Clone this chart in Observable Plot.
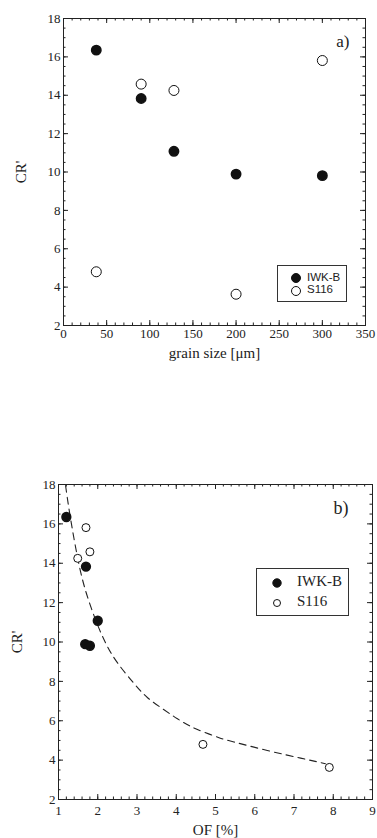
<!DOCTYPE html>
<html><head><meta charset="utf-8">
<script src="https://cdn.jsdelivr.net/npm/d3@7"></script>
<script src="https://cdn.jsdelivr.net/npm/@observablehq/plot@0.6"></script>
<style>
body{margin:0;background:#fff;}
#root{position:relative;width:377px;height:838px;overflow:hidden;}
#root svg{display:block;}
#root svg text{font-family:'Liberation Serif','Times New Roman',serif;}
.legend{position:absolute;border:1px solid #333;background:#fff;box-sizing:border-box;}
.legend .item{position:absolute;white-space:nowrap;line-height:1;}
.legend svg{position:absolute;overflow:visible;}
</style></head><body><div id="root"></div>
<script>
// ---- data ----
const series = ["IWK-B", "S116"];
const grainSize = [38, 90, 128, 200, 300];          // µm
const crIWK = [16.35, 13.83, 11.08, 9.89, 9.81];     // CR'
const crS116 = [4.8, 14.58, 14.25, 3.63, 15.81];     // CR'
const ofIWK = [1.2, 1.7, 2.0, 1.68, 1.8];            // OF [%]
const ofS116 = [4.68, 1.8, 1.49, 7.9, 1.7];          // OF [%]
// dashed fit curve in panel b
const fitOF = [1.18, 1.30, 1.50, 1.70, 1.95, 2.2, 2.5, 2.93, 3.27, 3.65, 4.03, 4.37, 4.71, 5.09, 5.47, 6.32, 7.17, 7.8];
const fitCR = [17.95, 16.35, 14.15, 12.54, 11.1, 9.95, 8.95, 7.88, 7.17, 6.61, 6.10, 5.71, 5.42, 5.14, 4.92, 4.49, 4.1, 3.82];
// ticks
const ticksXa = [0, 50, 100, 150, 200, 250, 300, 350];
const ticksXb = [1, 2, 3, 4, 5, 6, 7, 8, 9];
const ticksY = [2, 4, 6, 8, 10, 12, 14, 16, 18];
const minorXa = d3.range(0, 350.001, 10);
const minorXb = d3.range(1, 9.001, 0.2);
const minorY = d3.range(2, 18.001, 0.5);

const serif = "'Liberation Serif', 'Times New Roman', serif";
const sans = "'Liberation Sans', Arial, sans-serif";
const ink = "#222";
const plotStyle = "font-family: 'Liberation Serif', 'Times New Roman', serif; font-size: 13px; color: #222; background: #fff;";

function frameTicks(xMajor, xMinor, yMajor, yMinor, innerW, innerH) {
  const big = 5, small = 2.5;
  const o = {stroke: ink, strokeWidth: 1};
  return [
    Plot.tickX(xMajor, {x: d => d, insetTop: innerH - big, ...o}),
    Plot.tickX(xMajor, {x: d => d, insetBottom: innerH - big, ...o}),
    Plot.tickX(xMinor, {x: d => d, insetTop: innerH - small, ...o}),
    Plot.tickX(xMinor, {x: d => d, insetBottom: innerH - small, ...o}),
    Plot.tickY(yMajor, {y: d => d, insetRight: innerW - big, ...o}),
    Plot.tickY(yMajor, {y: d => d, insetLeft: innerW - big, ...o}),
    Plot.tickY(yMinor, {y: d => d, insetRight: innerW - small, ...o}),
    Plot.tickY(yMinor, {y: d => d, insetLeft: innerW - small, ...o})
  ];
}

const root = document.getElementById("root");

// ---- panel a ----
{
  const W = 377, H = 420, mt = 18, ml = 63, mr = 12, mb = 95;
  const idx = d3.range(grainSize.length);
  const chart = Plot.plot({
    width: W, height: H, marginTop: mt, marginLeft: ml, marginRight: mr, marginBottom: mb,
    style: plotStyle,
    x: {domain: [0, 350]},
    y: {domain: [2, 18]},
    marks: [
      ...frameTicks(ticksXa, minorXa, ticksY, minorY, W - ml - mr, H - mt - mb),
      Plot.frame({stroke: ink, strokeWidth: 1}),
      Plot.axisX(ticksXa, {tickSize: 0, tickPadding: 3, fontSize: 13, fontFamily: serif, label: null}),
      Plot.axisY(ticksY, {tickSize: 0, tickPadding: 3, fontSize: 13, fontFamily: serif, label: null}),
      Plot.dot(idx, {x: i => grainSize[i], y: i => crIWK[i], r: 4.7, fill: "#111", stroke: "#111"}),
      Plot.dot(idx, {x: i => grainSize[i], y: i => crS116[i], r: 5, fill: "#fff", stroke: "#111", strokeWidth: 1}),
      Plot.text(["a)"], {frameAnchor: "top-right", dx: -16, dy: 16, fontSize: 17, fontFamily: serif, fill: ink}),
      Plot.text(["grain size [μm]"], {frameAnchor: "bottom", dy: 28, lineAnchor: "middle", fontSize: 15, fontFamily: serif, fill: ink}),
      Plot.text(["CR'"], {frameAnchor: "left", dx: -42, rotate: -90, textAnchor: "middle", lineAnchor: "middle", fontSize: 15, fontFamily: serif, fill: ink})
    ]
  });
  root.appendChild(chart);
}

// ---- panel b ----
{
  const W = 377, H = 418, mt = 64, ml = 58, mr = 5, mb = 39;
  const idxI = d3.range(ofIWK.length);
  const idxS = d3.range(ofS116.length);
  const idxF = d3.range(fitOF.length);
  const chart = Plot.plot({
    width: W, height: H, marginTop: mt, marginLeft: ml, marginRight: mr, marginBottom: mb,
    style: plotStyle,
    x: {domain: [1, 9]},
    y: {domain: [2, 18]},
    marks: [
      ...frameTicks(ticksXb, minorXb, ticksY, minorY, W - ml - mr, H - mt - mb),
      Plot.frame({stroke: ink, strokeWidth: 1}),
      Plot.axisX(ticksXb, {tickSize: 0, tickPadding: 6, fontSize: 13, fontFamily: serif, label: null}),
      Plot.axisY(ticksY, {tickSize: 0, tickPadding: 3, fontSize: 13, fontFamily: serif, label: null}),
      Plot.line(idxF, {x: i => fitOF[i], y: i => fitCR[i], curve: "natural", stroke: ink, strokeWidth: 1.1, strokeDasharray: "7,5"}),
      Plot.dot(idxI, {x: i => ofIWK[i], y: i => crIWK[i], r: 4.4, fill: "#111", stroke: "#111"}),
      Plot.dot(idxS, {x: i => ofS116[i], y: i => crS116[i], r: 4, fill: "#fff", stroke: "#111", strokeWidth: 1}),
      Plot.text(["b)"], {frameAnchor: "top-right", dx: -24, dy: 17, fontSize: 18, fontFamily: serif, fill: ink}),
      Plot.text(["OF [%]"], {frameAnchor: "bottom", dy: 31, lineAnchor: "middle", fontSize: 15, fontFamily: serif, fill: ink}),
      Plot.text(["CR'"], {frameAnchor: "left", dx: -41, rotate: -90, textAnchor: "middle", lineAnchor: "middle", fontSize: 15, fontFamily: serif, fill: ink})
    ]
  });
  root.appendChild(chart);
}

// ---- legends (HTML overlays) ----
function legend(box, items) {
  const d = document.createElement("div");
  d.className = "legend";
  Object.assign(d.style, {left: box.left + "px", top: box.top + "px", width: box.width + "px", height: box.height + "px"});
  items.forEach((it, k) => {
    const ns = "http://www.w3.org/2000/svg";
    const s = document.createElementNS(ns, "svg");
    s.setAttribute("width", 12); s.setAttribute("height", 12);
    s.style.left = (box.cx - 6) + "px"; s.style.top = (box.cy[k] - 6) + "px";
    const c = document.createElementNS(ns, "circle");
    c.setAttribute("cx", 6); c.setAttribute("cy", 6); c.setAttribute("r", it.r);
    c.setAttribute("fill", it.filled ? "#111" : "#fff"); c.setAttribute("stroke", "#111");
    s.appendChild(c); d.appendChild(s);
    const t = document.createElement("div");
    t.className = "item"; t.textContent = it.label;
    Object.assign(t.style, {left: box.tx + "px", top: (box.cy[k] - box.fs * 0.55) + "px", fontFamily: box.font, fontSize: box.fs + "px", color: ink});
    d.appendChild(t);
  });
  root.appendChild(d);
}
legend({left: 277, top: 265, width: 70, height: 37, cx: 18, cy: [12, 24.5], tx: 29, font: sans, fs: 11.5},
  [{label: series[0], filled: true, r: 4.5}, {label: series[1], filled: false, r: 4.5}]);
legend({left: 256, top: 568, width: 93, height: 48, cx: 20, cy: [13.5, 33.5], tx: 40, font: serif, fs: 15},
  [{label: series[0], filled: true, r: 4.2}, {label: series[1], filled: false, r: 3.5}]);
</script>
</body></html>
